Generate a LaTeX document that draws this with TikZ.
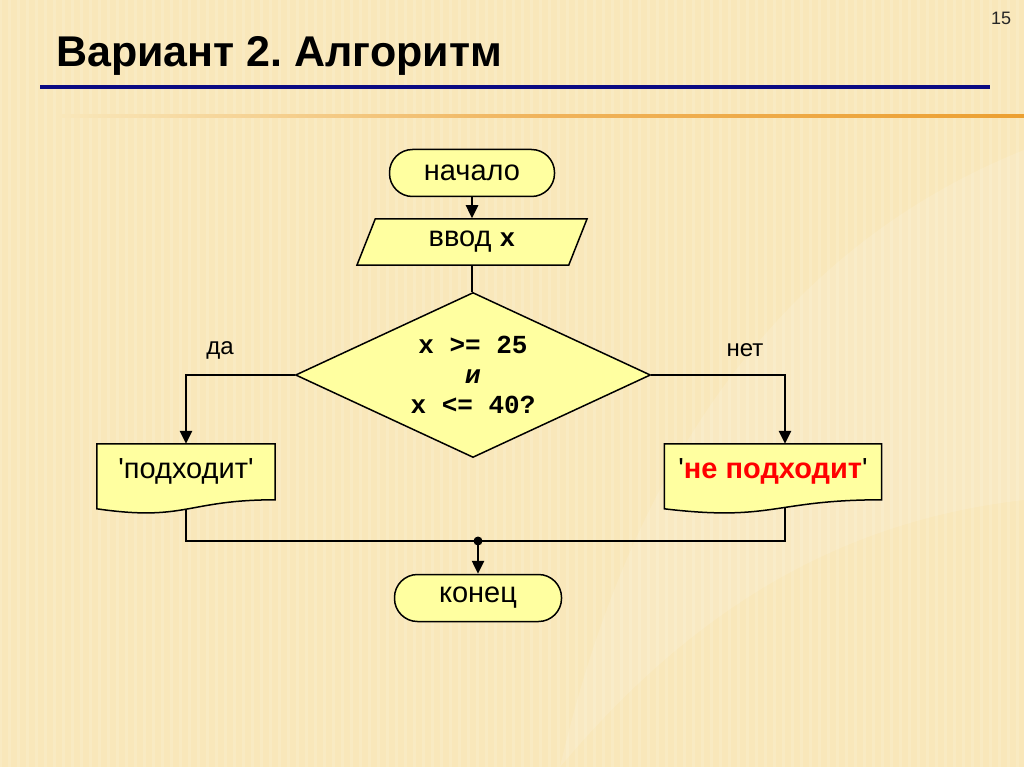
\documentclass[tikz,border=0pt]{standalone}
\usepackage{fontspec}
\setmainfont{Liberation Sans}
\setmonofont{Liberation Mono}
\usetikzlibrary{shapes.geometric,arrows.meta,calc}

\pgfdeclarelayer{back}
\pgfdeclarelayer{lines}
\pgfdeclarelayer{docs}
\pgfsetlayers{back,lines,docs,main}

\definecolor{slidebg}{RGB}{249,231,186}
\definecolor{boxfill}{RGB}{255,255,160}
\definecolor{navyline}{RGB}{10,10,130}
\definecolor{orangeline}{RGB}{236,160,50}

% wavy document outline behind a text node: name, width
\newcommand{\docshape}[2]{%
  \path[docbox] (#1.north west) -- (#1.north east) --
    ($(#1.north east)+(0,56)$)
    .. controls ($(#1.north east)+(-#2/2,56)$) and ($(#1.north east)+(-#2/2,78)$)
    .. ($(#1.north west)+(0,65)$) -- cycle;}

\begin{document}
\begin{tikzpicture}[x=1pt, y=-1pt,
    flowfont/.style={font=\fontsize{29}{32}\selectfont},
    term/.style={flowfont, draw, fill=boxfill, line width=1.5pt,
      rounded corners=23pt, minimum width=165pt, minimum height=47pt},
    inbox/.style={flowfont, trapezium, trapezium left angle=57,
      trapezium right angle=123, trapezium stretches body, draw,
      fill=boxfill, line width=1.5pt, minimum width=230pt, minimum height=46pt},
    cond/.style={diamond, draw, fill=boxfill, line width=1.5pt,
      shape aspect=2.15, minimum width=355pt, minimum height=165pt,
      inner sep=0pt, align=center,
      font=\ttfamily\bfseries\fontsize{26}{30}\selectfont},
    doctext/.style={flowfont, minimum height=54pt, inner sep=0pt},
    docbox/.style={draw, fill=boxfill, line width=1.5pt},
    lbl/.style={font=\fontsize{24}{28}\selectfont},
    line/.style={line width=2.5pt},
    flow/.style={line, -{Triangle[length=13pt, width=12pt]}}]

  \useasboundingbox (0,0) rectangle (1024,767);

  % Slide background
  \begin{pgfonlayer}{back}
    \fill[slidebg] (0,0) rectangle (1024,767);
    \foreach \x in {0,9,...,1024}
      \draw[white, opacity=0.13, line width=3pt] (\x,0) -- (\x,767);
    \fill[white, opacity=0.12] (560,767) .. controls (700,600) and (850,520)
      .. (1024,500) -- (1024,150) .. controls (850,220) and (650,380) .. (560,767);
    \draw[navyline, line width=4pt] (40,87) -- (990,87);
    \shade[left color=slidebg, right color=orangeline, middle color=orangeline!80]
      (60,114.5) rectangle (1024,117.5);
  \end{pgfonlayer}

  % Title
  \node[anchor=base west, inner sep=0pt, font=\bfseries\fontsize{43}{46}\selectfont]
    (title) at (56,67) {Вариант 2.\ Алгоритм};
  \node[font=\fontsize{18}{20}\selectfont, text=black!85] (pagenum) at (1001,18) {15};

  % Blocks
  \node[term] (start) at (472,173) {начало};
  \node[inbox] (input) at (472,242) {ввод \texttt{\bfseries\fontsize{26}{30}\selectfont x}};
  \node[cond] (check) at (473,375) {x >= 25\\\textit{и}\\x <= 40?};
  \node[doctext, minimum width=178pt] (yes) at (186,471)
    {\textquotesingle подходит\textquotesingle};
  \node[doctext, minimum width=217pt] (no) at (773,471)
    {\textquotesingle\textcolor{red}{\bfseries не подходит}\textquotesingle};
  \node[term, minimum width=167pt] (end) at (478,598) {конец};

  % Branch labels
  \node[lbl] (yeslbl) at (220,350) {да};
  \node[lbl] (nolbl) at (745,350) {нет};

  \coordinate (noin) at ($(no.north)+(12,0)$);
  \coordinate (noout) at ($(no.south)+(12,0)$);
  \coordinate (join) at (478,541);

  % Document outlines
  \begin{pgfonlayer}{docs}
    \docshape{yes}{178}
    \docshape{no}{217}
  \end{pgfonlayer}

  % Connectors
  \begin{pgfonlayer}{lines}
    \draw[flow] (start) -- (input);
    \draw[line] (input.south) -- (input.south |- check.north);
    \draw[flow] (check.west) -| (yes.north);
    \draw[flow] (check.east) -| (noin);
    \draw[line] (yes.south) |- (join);
    \draw[line] (noout) |- (join);
    \draw[flow] (join) -- (end);
  \end{pgfonlayer}
  \fill (join) circle (4.5pt);

\end{tikzpicture}
\end{document}
